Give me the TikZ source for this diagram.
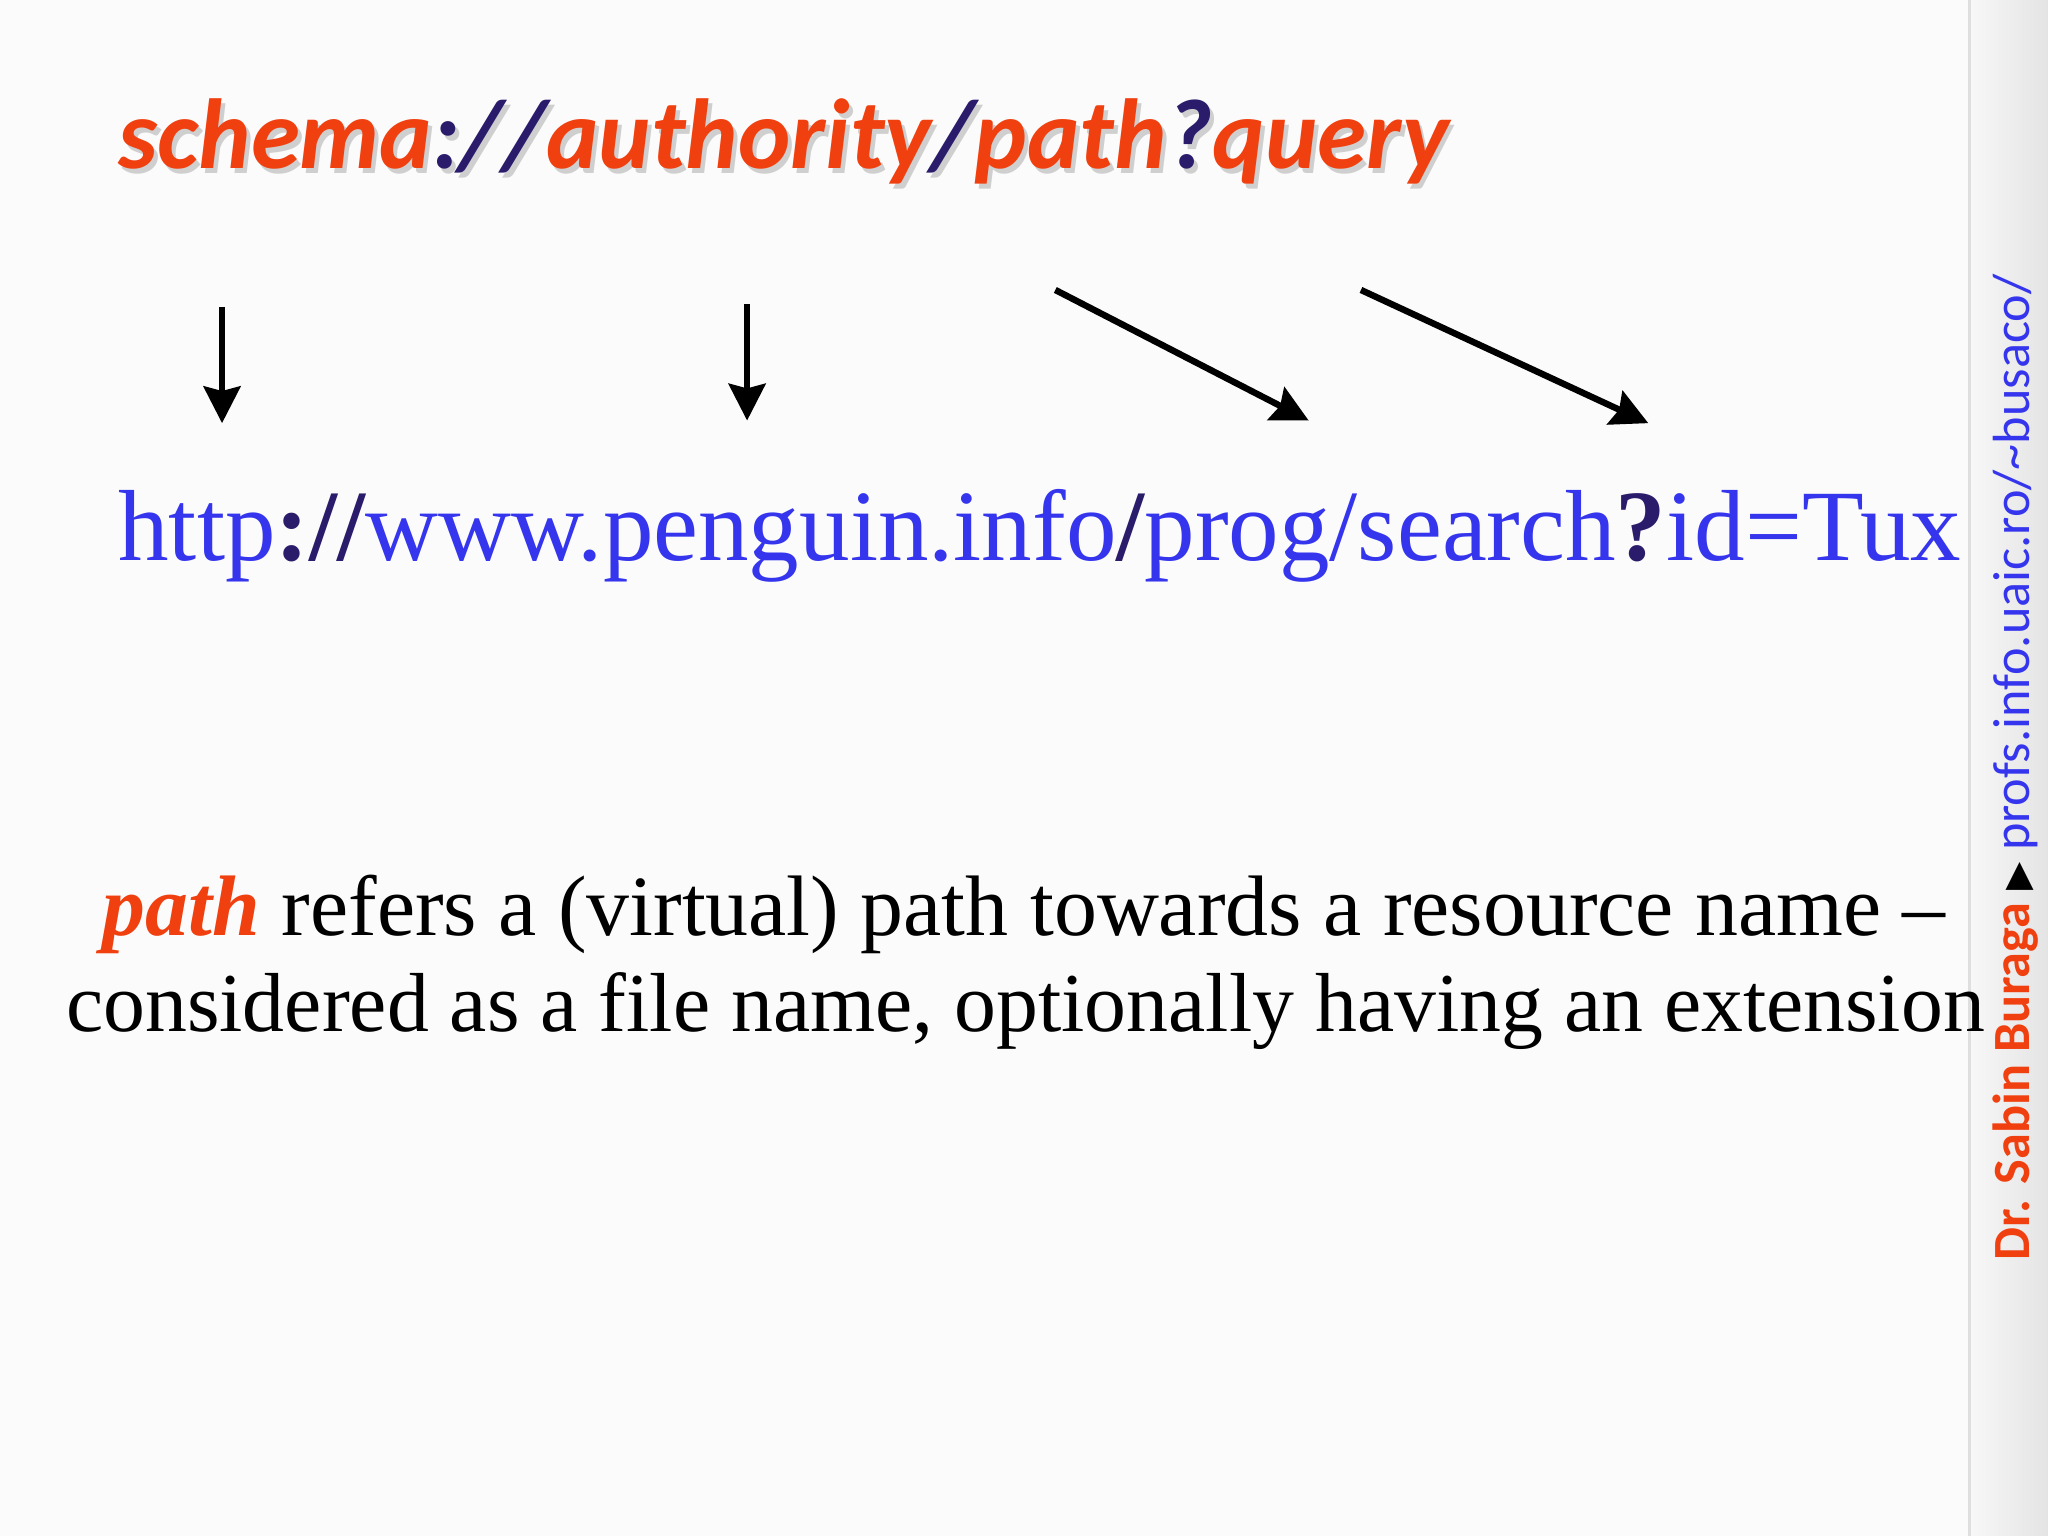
\documentclass[tikz,border=0pt]{standalone}
\usepackage{fontspec}
\usepackage{graphicx}
\setmainfont{Liberation Serif}
\newfontfamily\carlitofont{Carlito}
\definecolor{ored}{HTML}{F0400F}
\definecolor{dpur}{HTML}{2B1B6B}
\definecolor{ublue}{HTML}{3535EE}
\definecolor{sidebar}{HTML}{E4E4E4}
\usetikzlibrary{arrows.meta}
\tikzset{arr/.style={line width=1.4pt,-{Stealth[length=8pt,width=8pt,inset=1pt]}},
 txt/.style={inner sep=0pt,anchor=west}}
\begin{document}
\begin{tikzpicture}[x=0.01cm,y=-0.01cm]
\useasboundingbox (0,0) rectangle (1568,1176);
\fill[white!97!gray] (0,0) rectangle (1568,1176);
\shade[left color=white!94!gray,right color=sidebar] (1508,0) rectangle (1568,1176);
\draw[gray!25,line width=0.6pt] (1508,0) -- (1508,1176);
% title
\node[txt,text=gray!60,opacity=0.6] (tsh) at (93,112) {\resizebox{10.18cm}{!}{\carlitofont\bfseries\itshape schema://authority/path?query}};
\node[txt] (title) at (90,108) {\resizebox{10.18cm}{!}{\carlitofont\bfseries\itshape\textcolor{ored}{schema}\textcolor{dpur}{://}\textcolor{ored}{authority}\textcolor{dpur}{/}\textcolor{ored}{path}\textcolor{dpur}{?}\textcolor{ored}{query}}};
% url
\node[txt] (url) at (90,410) {\resizebox{14.1cm}{!}{\textcolor{ublue}{http}\textcolor{dpur}{\bfseries://}\textcolor{ublue}{www.penguin.info}\textcolor{dpur}{\bfseries/}\textcolor{ublue}{prog/search}\textcolor{dpur}{\bfseries?}\textcolor{ublue}{id=Tux}}};
% arrows
\coordinate (a1) at (170,235); \coordinate (b1) at (170,324);
\coordinate (a2) at (572,233); \coordinate (b2) at (572,322);
\coordinate (a3) at (808,222); \coordinate (b3) at (1002,322);
\coordinate (a4) at (1042,222); \coordinate (b4) at (1262,324);
\draw[arr] (a1) -- (b1);
\draw[arr] (a2) -- (b2);
\draw[arr] (a3) -- (b3);
\draw[arr] (a4) -- (b4);
% body text
\node[txt] (l1) at (78,700) {\resizebox{14.1cm}{!}{\textcolor{ored}{\bfseries\itshape path} refers a (virtual) path towards a resource name –}};
\node[txt] (l2) at (50,774) {\resizebox{14.68cm}{!}{considered as a file name, optionally having an extension}};
% side
\node[rotate=90,anchor=west,inner sep=0pt] (side) at (1543,966) {\resizebox{7.55cm}{!}{\carlitofont\textcolor{ored}{\bfseries Dr. Sabin Buraga} \textcolor{black}{\fontspec{DejaVu Sans}\scriptsize▶} \textcolor{ublue}{profs.info.uaic.ro/\textasciitilde busaco/}}};
\end{tikzpicture}
\end{document}
